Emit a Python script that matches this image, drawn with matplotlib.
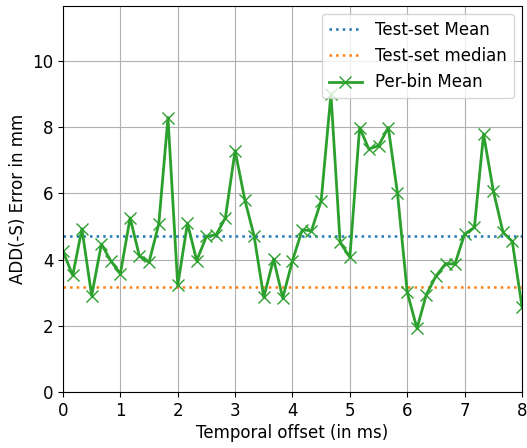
import matplotlib
matplotlib.use("Agg")
import matplotlib.pyplot as plt

offsets = [0.00, 0.17, 0.33, 0.50, 0.67, 0.83, 1.00, 1.17, 1.33, 1.50,
           1.67, 1.83, 2.00, 2.17, 2.33, 2.50, 2.67, 2.83, 3.00, 3.17,
           3.33, 3.50, 3.67, 3.83, 4.00, 4.17, 4.33, 4.50, 4.67, 4.83,
           5.00, 5.17, 5.33, 5.50, 5.67, 5.83, 6.00, 6.17, 6.33, 6.50,
           6.67, 6.83, 7.00, 7.17, 7.33, 7.50, 7.67, 7.83, 8.00]
per_bin_mean = [4.25, 3.52, 4.93, 2.91, 4.47, 3.97, 3.57, 5.26, 4.12, 3.92,
                5.08, 8.29, 3.22, 5.10, 3.97, 4.70, 4.75, 5.26, 7.29, 5.80,
                4.72, 2.86, 4.02, 2.84, 3.97, 4.90, 4.87, 5.78, 9.00, 4.52,
                4.07, 7.99, 7.34, 7.44, 7.99, 6.00, 3.01, 1.92, 2.93, 3.50,
                3.88, 3.86, 4.77, 4.97, 7.79, 6.08, 4.82, 4.55, 2.58]
test_mean = 4.70
test_median = 3.16

plt.rcParams["font.size"] = 12

fig = plt.figure(figsize=(5.27, 4.48), dpi=100)
ax = fig.add_axes([0.1195, 0.125, 0.871, 0.8623])
ax.axhline(test_mean, color="C0", linestyle=":", linewidth=1.8, label="Test-set Mean")
ax.axhline(test_median, color="C1", linestyle=":", linewidth=1.8, label="Test-set median")
ax.plot(offsets, per_bin_mean, color="C2", marker="x", markersize=8,
        linewidth=2, label="Per-bin Mean")
ax.set_xlim(0, 8)
ax.set_ylim(0, 11.67)
ax.grid(True)
ax.set_xlabel("Temporal offset (in ms)", labelpad=3)
ax.set_ylabel("ADD(-S) Error in mm")
ax.legend(loc="upper right")
fig.savefig("out.png", dpi=100)
